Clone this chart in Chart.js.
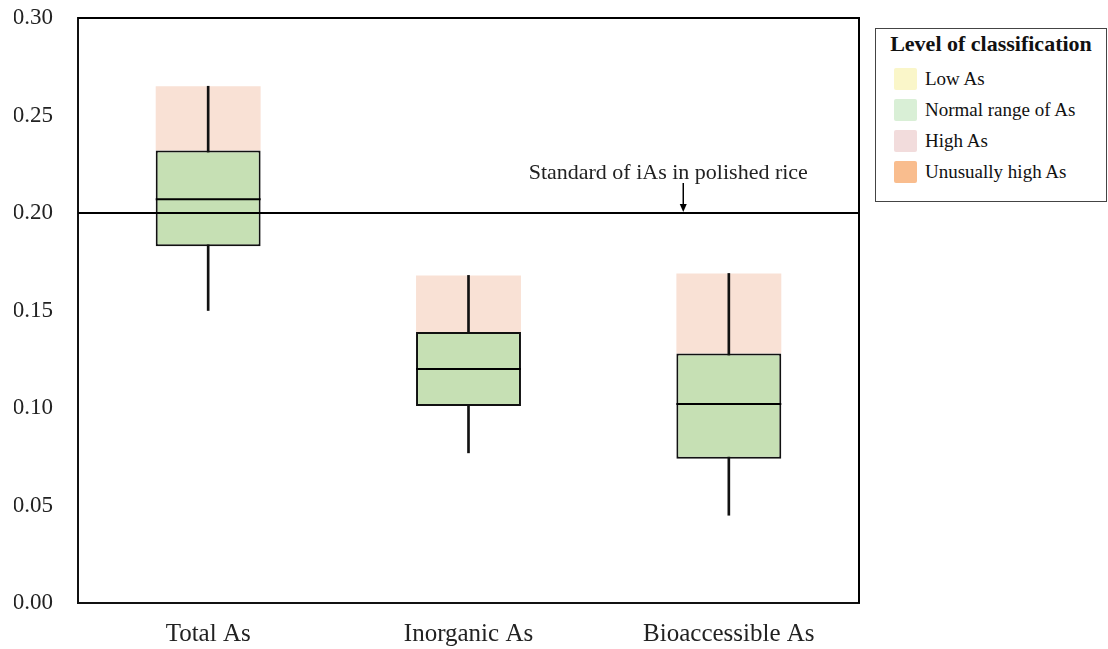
<!DOCTYPE html>
<html>
<head>
<meta charset="utf-8">
<script src="https://cdn.jsdelivr.net/npm/chart.js@4/dist/chart.umd.min.js"></script>
<style>
  body { margin: 0; background: #fff; font-family: "Liberation Serif", "Times New Roman", serif; }
  #chartWrap { position: absolute; left: 0; top: 0; width: 866px; height: 649px; }
  #legend {
    position: absolute; left: 875px; top: 28px; width: 230px; height: 172px;
    border: 1px solid #444; color: #111;
  }
  #legend .title { font-weight: bold; font-size: 22px; line-height: 24px; text-align: center; padding-top: 3px; margin-bottom: 7px; }
  #legend .row { display: flex; align-items: center; height: 31px; padding-left: 18px; font-size: 19px; }
  #legend .swatch { width: 23px; height: 22px; border-radius: 2px; margin-right: 8px; }
</style>
</head>
<body>
<div id="chartWrap"><canvas id="asChart"></canvas></div>
<div id="legend"><div class="title">Level of classification</div></div>
<script>
  const categories = ["Total As", "Inorganic As", "Bioaccessible As"];
  const whiskerLow = [0.150, 0.077, 0.045];
  const boxLow = [0.183, 0.101, 0.074];
  const medians = [0.207, 0.120, 0.102];
  const boxHigh = [0.232, 0.139, 0.128];
  const whiskerHigh = [0.265, 0.168, 0.169];

  const standardValue = 0.2;
  const standardLabel = "Standard of iAs in polished rice";
  const arrowAt = 1.825; // category units, between Inorganic and Bioaccessible

  const legendLabels = ["Low As", "Normal range of As", "High As", "Unusually high As"];
  const legendColors = ["#faf6c9", "#d9efd6", "#f2dcdc", "#f9bd8e"];

  const fontFamily = '"Liberation Serif", "Times New Roman", serif';

  // html legend
  const legendEl = document.getElementById("legend");
  legendLabels.forEach((label, i) => {
    const row = document.createElement("div");
    row.className = "row";
    row.innerHTML = `<span class="swatch" style="background:${legendColors[i]}"></span><span>${label}</span>`;
    legendEl.appendChild(row);
  });

  const boxExtras = {
    id: "boxExtras",
    afterDatasetsDraw(chart) {
      const { ctx, chartArea: area, scales: { x, y } } = chart;
      const boxMeta = chart.getDatasetMeta(2);
      ctx.save();
      ctx.strokeStyle = "#000";
      ctx.lineWidth = 2;

      // median lines
      boxMeta.data.forEach((bar, i) => {
        const my = y.getPixelForValue(medians[i]);
        ctx.beginPath();
        ctx.moveTo(bar.x - bar.width / 2, my);
        ctx.lineTo(bar.x + bar.width / 2, my);
        ctx.stroke();
      });

      // frame top + right
      ctx.beginPath();
      ctx.moveTo(area.left, area.top);
      ctx.lineTo(area.right, area.top);
      ctx.lineTo(area.right, area.bottom);
      ctx.stroke();

      // standard line
      const sy = y.getPixelForValue(standardValue);
      ctx.beginPath();
      ctx.moveTo(area.left, sy);
      ctx.lineTo(area.right, sy);
      ctx.stroke();

      // arrow + label
      const ax = x.getPixelForValue(arrowAt);
      ctx.lineWidth = 1.5;
      ctx.beginPath();
      ctx.moveTo(ax, sy - 30);
      ctx.lineTo(ax, sy - 7);
      ctx.stroke();
      ctx.fillStyle = "#000";
      ctx.beginPath();
      ctx.moveTo(ax - 3.5, sy - 9);
      ctx.lineTo(ax + 3.5, sy - 9);
      ctx.lineTo(ax, sy - 1);
      ctx.closePath();
      ctx.fill();

      ctx.font = "22px " + fontFamily;
      ctx.fillStyle = "#222";
      ctx.textAlign = "center";
      ctx.textBaseline = "middle";
      ctx.fillText(standardLabel, ax - 15, sy - 40);
      ctx.restore();
    },
  };

  new Chart(document.getElementById("asChart"), {
    type: "bar",
    data: {
      labels: categories,
      datasets: [
        {
          label: "upper range",
          data: categories.map((c, i) => [boxHigh[i], whiskerHigh[i]]),
          backgroundColor: "#f9e1d5",
          borderWidth: 0,
          grouped: false,
          order: 3,
        },
        {
          label: "whisker",
          data: categories.map((c, i) => [whiskerLow[i], whiskerHigh[i]]),
          backgroundColor: "#111",
          barThickness: 2,
          grouped: false,
          order: 2,
        },
        {
          label: "box",
          data: categories.map((c, i) => [boxLow[i], boxHigh[i]]),
          backgroundColor: "#c6e0b4",
          borderColor: "#111",
          borderWidth: 2,
          borderSkipped: false,
          grouped: false,
          order: 1,
        },
      ],
    },
    options: {
      responsive: true,
      maintainAspectRatio: false,
      animation: false,
      categoryPercentage: 1,
      barPercentage: 0.403,
      layout: { padding: { left: 14, top: 18, right: 7, bottom: 0 } },
      plugins: {
        legend: { display: false },
        tooltip: { enabled: false },
      },
      scales: {
        x: {
          grid: { display: false, drawTicks: false },
          border: { color: "#111", width: 2 },
          ticks: { color: "#222", padding: 16, font: { family: fontFamily, size: 25 } },
          afterFit: (scale) => {
            scale.height = 46;
            scale.paddingLeft = 0;
            scale.paddingRight = 0;
          },
        },
        y: {
          min: 0,
          max: 0.3,
          grid: { display: false, drawTicks: false },
          border: { color: "#111", width: 2 },
          ticks: {
            stepSize: 0.05,
            color: "#222",
            padding: 25,
            font: { family: fontFamily, size: 23 },
            callback: (v) => v.toFixed(2),
          },
          afterFit: (scale) => {
            scale.width = 64;
            scale.paddingTop = 0;
            scale.paddingBottom = 0;
          },
        },
      },
    },
    plugins: [boxExtras],
  });
</script>
</body>
</html>
